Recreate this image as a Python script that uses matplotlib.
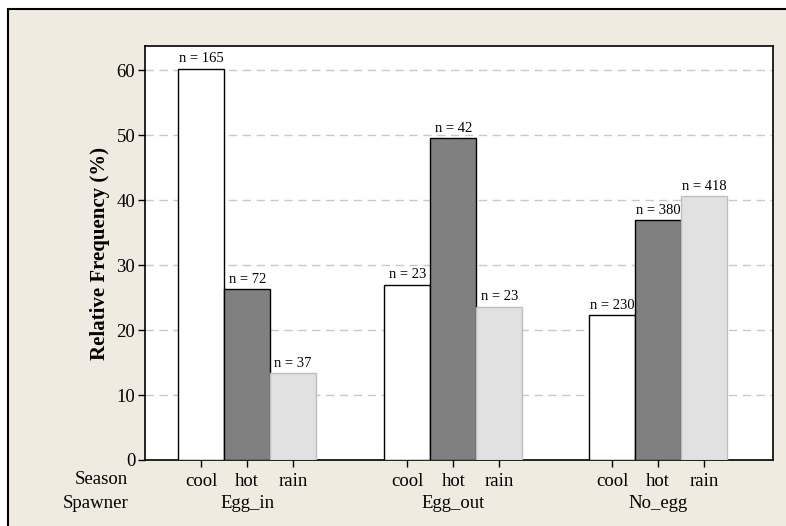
import numpy as np
import matplotlib.pyplot as plt
from matplotlib.patches import Rectangle
from matplotlib.transforms import blended_transform_factory

plt.rcParams["font.family"] = ["Liberation Serif", "DejaVu Serif"]

spawners = ["Egg_in", "Egg_out", "No_egg"]
seasons = ["cool", "hot", "rain"]
# relative frequency (%) per spawner group, one list per season
freq = {
    "cool": [60.2, 27.0, 22.3],
    "hot": [26.3, 49.5, 36.9],
    "rain": [13.4, 23.6, 40.6],
}
counts = {
    "cool": [165, 23, 230],
    "hot": [72, 42, 380],
    "rain": [37, 23, 418],
}

face = {"cool": "white", "hot": "#808080", "rain": "#e1e1e1"}
edge = {"cool": "black", "hot": "black", "rain": "#bdbdbd"}

fig = plt.figure(figsize=(7.86, 5.26), dpi=100)
fig.patch.set_facecolor("white")
# beige panel, framed on top/left; right and bottom run off the canvas
fig.patches.append(Rectangle((8 / 786, -0.1), 1.2, 1.1 - 9 / 526, transform=fig.transFigure,
                             facecolor="#efebe1", edgecolor="black", lw=1.5, zorder=-10))

ax = fig.add_axes([145 / 786, 66 / 526, 628 / 786, 414 / 526])
ax.set_facecolor("white")

width = 1.0
group_c = np.array([2.22, 6.70, 11.15])
tick_pos, tick_lab = [], []
for i, s in enumerate(seasons):
    x = group_c + (i - 1) * width
    ax.bar(x, freq[s], width=width, color=face[s], edgecolor=edge[s], lw=1.0, zorder=3)
    for xi, v, n in zip(x, freq[s], counts[s]):
        ax.text(xi, v + 0.5, f"n = {n}", ha="center", va="bottom", fontsize=10.5, zorder=4)
    tick_pos.extend(x)
    tick_lab.extend([s] * len(x))

ax.set_xlim(0, 13.65)
ax.set_ylim(0, 63.7)
ax.set_yticks(range(0, 61, 10))
for y in range(10, 61, 10):
    ax.axhline(y, color="#c8c8c8", lw=1, ls=(0, (6, 4)), zorder=1)

ax.set_xticks(tick_pos)
ax.set_xticklabels(tick_lab)
ax.tick_params(axis="both", direction="out", length=5, width=1, labelsize=13.5)
ax.tick_params(axis="x", pad=4)
ax.tick_params(axis="y", pad=2)
for sp in ax.spines.values():
    sp.set_linewidth(1.2)

ax.set_ylabel("Relative Frequency (%)", fontsize=15, fontweight="bold")
ax.yaxis.set_label_coords(-0.055, 0.5)

# second row of category labels under the season ticks
row2 = blended_transform_factory(ax.transData, fig.transFigure)
for c, name in zip(group_c, spawners):
    ax.text(c, 1 - 504 / 526, name, transform=row2, ha="center", va="center", fontsize=13.5)
ax.text(128 / 786, 1 - 480 / 526, "Season", transform=fig.transFigure, ha="right",
        va="center", fontsize=13.5)
ax.text(128 / 786, 1 - 504 / 526, "Spawner", transform=fig.transFigure, ha="right",
        va="center", fontsize=13.5)

fig.savefig("out.png", dpi=100, facecolor=fig.get_facecolor())
